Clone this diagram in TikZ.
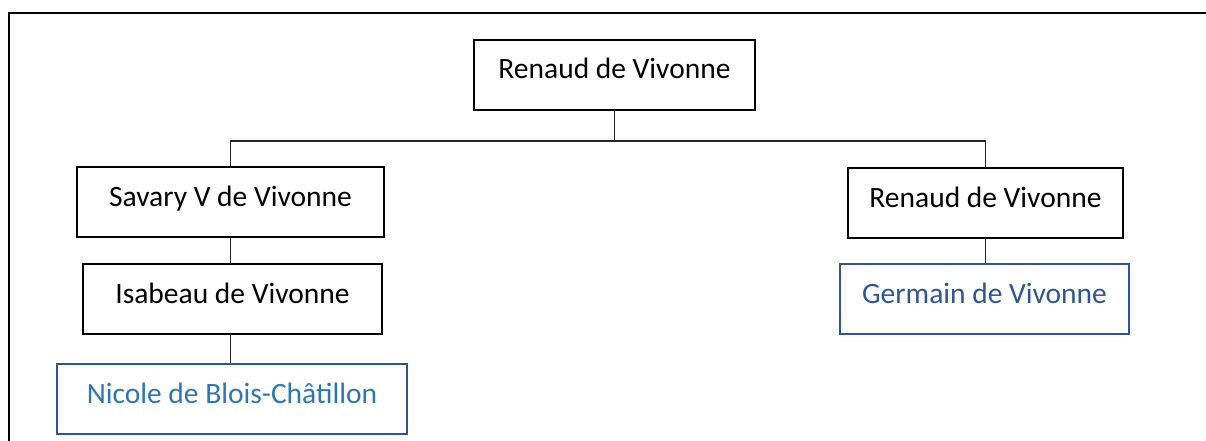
\documentclass[tikz,border=0pt]{standalone}
\usepackage{fontspec}
\setmainfont{Carlito}
\definecolor{boxblue}{HTML}{2F5597}
\definecolor{textblue}{HTML}{2E75B6}
\begin{document}
\begin{tikzpicture}[x=1pt,y=-1pt,
  person/.style={draw=black, line width=2pt, inner sep=0pt, anchor=north west,
    minimum height=70pt, text height=39pt, text depth=31pt, align=center,
    font=\fontsize{29.5}{34}\selectfont},
  bluebox/.style={person, draw=boxblue, text=#1},
  link/.style={draw=black!85, line width=1.1pt}]
\useasboundingbox (0,0) rectangle (1206,441);
\draw[line width=2pt] (9,441) -- (9,13) -- (1206,13);
\node[person, minimum width=281pt] (top) at (473,39) {Renaud de Vivonne};
\node[person, minimum width=307pt] (savary) at (76,166) {Savary V de Vivonne};
\node[person, minimum width=299pt] (isabeau) at (82,263) {Isabeau de Vivonne};
\node[bluebox=textblue, minimum width=350pt] (nicole) at (56,363) {Nicole de Blois-Châtillon};
\node[person, minimum width=275pt] (renaud) at (847,167) {Renaud de Vivonne};
\node[bluebox=boxblue, minimum width=289pt] (germain) at (839,263) {Germain de Vivonne};
\coordinate (bus) at ([yshift=-30pt]top.south);
\draw[link] (top.south) -- (bus);
\draw[link] (savary.north) |- (bus) -| (renaud.north);
\draw[link] (savary.south) -- (savary.south |- isabeau.north);
\draw[link] (savary.south |- isabeau.south) -- (savary.south |- nicole.north);
\draw[link] (renaud.south) -- (renaud.south |- germain.north);
\end{tikzpicture}
\end{document}
